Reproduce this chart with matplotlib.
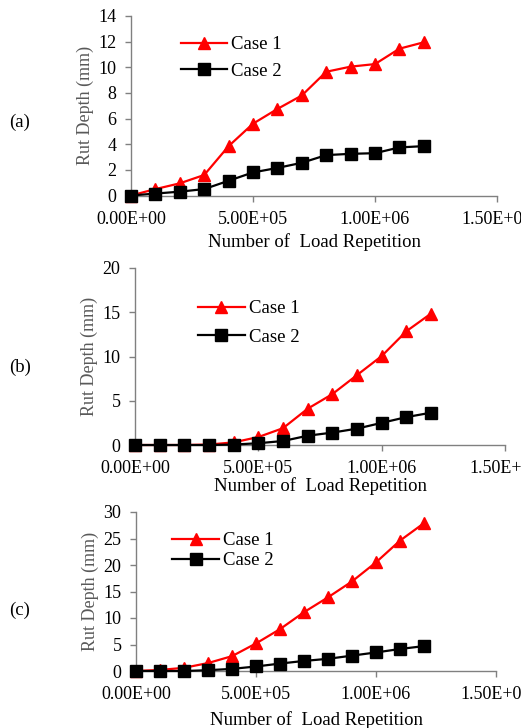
import matplotlib
matplotlib.use("Agg")
import matplotlib.pyplot as plt
from matplotlib.ticker import FuncFormatter

plt.rcParams["font.family"] = ["Liberation Serif", "DejaVu Serif"]

repetitions = [0, 1e5, 2e5, 3e5, 4e5, 5e5, 6e5, 7e5, 8e5, 9e5, 1e6, 1.1e6, 1.2e6]

case1_a = [0, 0.5, 0.95, 1.6, 3.85, 5.6, 6.75, 7.8, 9.65, 10.05, 10.25, 11.45, 11.95]
case2_a = [0, 0.15, 0.3, 0.5, 1.15, 1.8, 2.15, 2.55, 3.15, 3.25, 3.3, 3.75, 3.85]

case1_b = [0, 0, 0, 0.05, 0.3, 0.9, 1.9, 4.1, 5.75, 7.9, 10.05, 12.85, 14.85]
case2_b = [0, 0, 0, 0, 0.05, 0.2, 0.45, 1.05, 1.4, 1.85, 2.5, 3.15, 3.65]

case1_c = [0, 0.2, 0.6, 1.5, 2.8, 5.2, 7.9, 11.1, 13.9, 16.9, 20.5, 24.6, 27.9]
case2_c = [0, 0, 0, 0.15, 0.4, 0.85, 1.4, 1.9, 2.3, 2.9, 3.5, 4.15, 4.7]

panel_names = ["(a)", "(b)", "(c)"]
y_limits = [(0, 14, 2), (0, 20, 5), (0, 30, 5)]

W, H = 521, 728
# axes boxes in pixels: left, right, top, bottom
boxes = [(131, 497, 16, 195.5), (135, 505, 268, 445), (136, 496, 512, 671)]
legend_pos = [(0.115, 0.93), (0.15, 0.86), (0.08, 0.92)]
legend_spacing = [0.5, 0.6, 0.15]
xlabel_pad = [3.5, 0.2, 5.3]
panel_y = [122, 367, 610]

gray = "#808080"

fig = plt.figure(figsize=(W / 100, H / 100), dpi=100)

series = [(case1_a, case2_a), (case1_b, case2_b), (case1_c, case2_c)]
for i, (c1, c2) in enumerate(series):
    l, r, t, b = boxes[i]
    ax = fig.add_axes([l / W, (H - b) / H, (r - l) / W, (b - t) / H])
    ax.plot(repetitions, c1, color="red", lw=1.6, marker="^", ms=8,
            label="Case 1", clip_on=False, zorder=3)
    ax.plot(repetitions, c2, color="black", lw=1.6, marker="s", ms=8.5,
            label="Case 2", clip_on=False, zorder=4)
    lo, hi, step = y_limits[i]
    ax.set_ylim(lo, hi)
    ax.set_yticks(range(lo, hi + 1, step))
    ax.set_xlim(0, 1.5e6)
    ax.set_xticks([0, 5e5, 1e6, 1.5e6])
    ax.xaxis.set_major_formatter(FuncFormatter(lambda v, p: f"{v:.2E}"))
    for s in ["top", "right"]:
        ax.spines[s].set_visible(False)
    for s in ["left", "bottom"]:
        ax.spines[s].set_color(gray)
        ax.spines[s].set_linewidth(1.0)
    ax.tick_params(direction="out", length=4, width=1, color=gray,
                   labelsize=13)
    ax.tick_params(axis="x", pad=7)
    ax.tick_params(axis="y", pad=6.5)
    ax.set_ylabel("Rut Depth (mm)", fontsize=13, color="#595959", labelpad=3)
    ax.set_xlabel("Number of  Load Repetition", fontsize=13.5,
                  labelpad=xlabel_pad[i])
    ax.legend(loc="upper left", bbox_to_anchor=legend_pos[i], frameon=False,
              fontsize=13.5, handlelength=2.5, handletextpad=0.2,
              labelspacing=legend_spacing[i], borderaxespad=0)
    fig.text(9 / W, 1 - panel_y[i] / H, panel_names[i], fontsize=13.5,
             ha="left", va="center")

fig.savefig("out.png", dpi=100)
